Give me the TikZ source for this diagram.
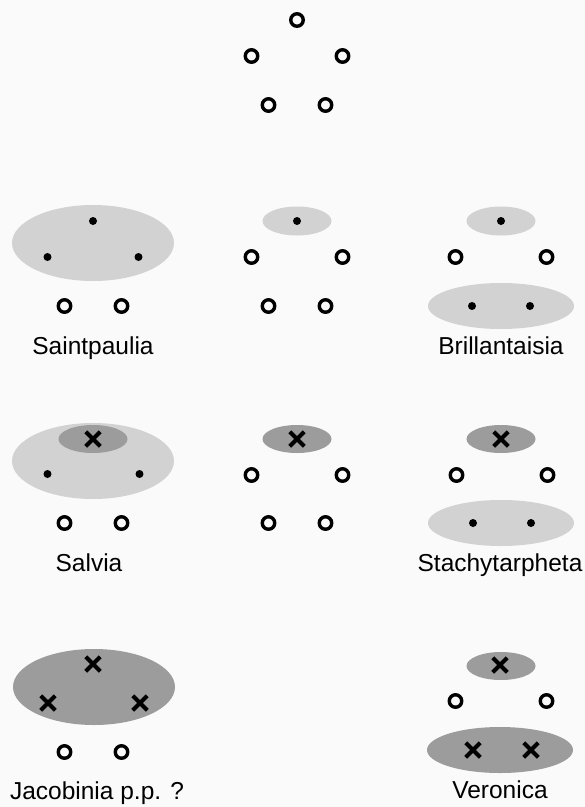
\documentclass[tikz,border=0pt]{standalone}
\usepackage{fontspec}
\setmainfont{Liberation Sans}
\usepackage{xcolor}
\definecolor{paperwhite}{HTML}{FAFAFA}
\definecolor{zonelight}{HTML}{D2D2D2}
\definecolor{zonedark}{HTML}{9C9C9C}
\usetikzlibrary{shapes.geometric,shapes.misc}
\tikzset{
  openpt/.style={
    circle, draw=black, line width=3.4pt, inner sep=0pt, minimum size=12.5pt
  },
  fillpt/.style={circle, fill=black, inner sep=0pt, minimum size=8pt},
  crosspt/.style={
    cross out, draw=black, line width=4pt, inner sep=0pt, minimum size=10.5pt
  },
  zone/.style={ellipse, inner sep=0pt},
  lightzone/.style={zone, fill=zonelight},
  darkzone/.style={zone, fill=zonedark},
  bigzone/.style={minimum width=162pt, minimum height=76pt},
  topzone/.style={minimum width=69pt, minimum height=29pt},
  pairzone/.style={minimum width=146pt, minimum height=46pt},
  taxon/.style={anchor=base, inner sep=0pt, font=\fontsize{24.5}{28}\selectfont}
}

\begin{document}
\begin{tikzpicture}[x=1pt,y=-1pt]
  \fill[paperwhite] (0,0) rectangle (585,807);

  % ancestral state
  \node[openpt] (anc-t) at (297,20) {};
  \node[openpt] (anc-ml) at (251.5,56) {};
  \node[openpt] (anc-mr) at (342.5,56) {};
  \node[openpt] (anc-bl) at (268.5,105) {};
  \node[openpt] (anc-br) at (325.5,105) {};

  % Saintpaulia
  \node[lightzone, bigzone] (sain-zone) at (93,243) {};
  \node[fillpt] (sain-t) at (93,221) {};
  \node[fillpt] (sain-ml) at (47.5,257) {};
  \node[fillpt] (sain-mr) at (138.5,257) {};
  \node[openpt] (sain-bl) at (64.5,306) {};
  \node[openpt] (sain-br) at (121.5,306) {};
  \node[taxon] (sain-name) at (93,354) {Saintpaulia};

  % middle, second row
  \node[lightzone, topzone] (midA-zone) at (297,221) {};
  \node[fillpt] (midA-t) at (297,221) {};
  \node[openpt] (midA-ml) at (251.5,257) {};
  \node[openpt] (midA-mr) at (342.5,257) {};
  \node[openpt] (midA-bl) at (268.5,306) {};
  \node[openpt] (midA-br) at (325.5,306) {};

  % Brillantaisia
  \node[lightzone, topzone] (bril-topzone) at (501,221) {};
  \node[lightzone, pairzone] (bril-pairzone) at (501,306) {};
  \node[fillpt] (bril-t) at (501,221) {};
  \node[openpt] (bril-ml) at (455.5,257) {};
  \node[openpt] (bril-mr) at (546.5,257) {};
  \node[fillpt] (bril-bl) at (472,306) {};
  \node[fillpt] (bril-br) at (530,306) {};
  \node[taxon] (bril-name) at (501,354) {Brillantaisia};

  % Salvia
  \node[lightzone, bigzone] (salv-zone) at (93,461) {};
  \node[darkzone, topzone, minimum height=28pt] (salv-topzone) at (93,439) {};
  \node[crosspt] (salv-t) at (93,439) {};
  \node[fillpt] (salv-ml) at (47.5,474) {};
  \node[fillpt] (salv-mr) at (139.5,474) {};
  \node[openpt] (salv-bl) at (64.5,523) {};
  \node[openpt] (salv-br) at (121.5,523) {};
  \node[taxon] (salv-name) at (89,571) {Salvia};

  % middle, third row
  \node[darkzone, topzone, minimum height=28pt] (midB-zone) at (297,439) {};
  \node[crosspt] (midB-t) at (297,439) {};
  \node[openpt] (midB-ml) at (251.5,475) {};
  \node[openpt] (midB-mr) at (342.5,475) {};
  \node[openpt] (midB-bl) at (268.5,523) {};
  \node[openpt] (midB-br) at (325.5,523) {};

  % Stachytarpheta
  \node[darkzone, topzone, minimum height=28pt] (stach-topzone) at (501,439) {};
  \node[lightzone, pairzone] (stach-pairzone) at (501,523) {};
  \node[crosspt] (stach-t) at (501,439) {};
  \node[openpt] (stach-ml) at (456.5,475) {};
  \node[openpt] (stach-mr) at (547.5,475) {};
  \node[fillpt] (stach-bl) at (473,523) {};
  \node[fillpt] (stach-br) at (531,523) {};
  \node[taxon] (stach-name) at (500,571) {Stachytarpheta};

  % Jacobinia
  \node[darkzone, bigzone] (jac-zone) at (94,687) {};
  \node[crosspt] (jac-t) at (93,664) {};
  \node[crosspt] (jac-ml) at (48,703) {};
  \node[crosspt] (jac-mr) at (140,703) {};
  \node[openpt] (jac-bl) at (64.5,752) {};
  \node[openpt] (jac-br) at (121.5,752) {};
  \node[taxon] (jac-name) at (97,799) {Jacobinia p.p. ?};

  % Veronica
  \node[darkzone, topzone, minimum height=28pt] (ver-topzone) at (501,666) {};
  \node[darkzone, pairzone] (ver-pairzone) at (500,750) {};
  \node[crosspt] (ver-t) at (500,665) {};
  \node[openpt] (ver-ml) at (455.5,701) {};
  \node[openpt] (ver-mr) at (546.5,701) {};
  \node[crosspt] (ver-bl) at (473,750) {};
  \node[crosspt] (ver-br) at (531,750) {};
  \node[taxon] (ver-name) at (500,798) {Veronica};
\end{tikzpicture}
\end{document}
